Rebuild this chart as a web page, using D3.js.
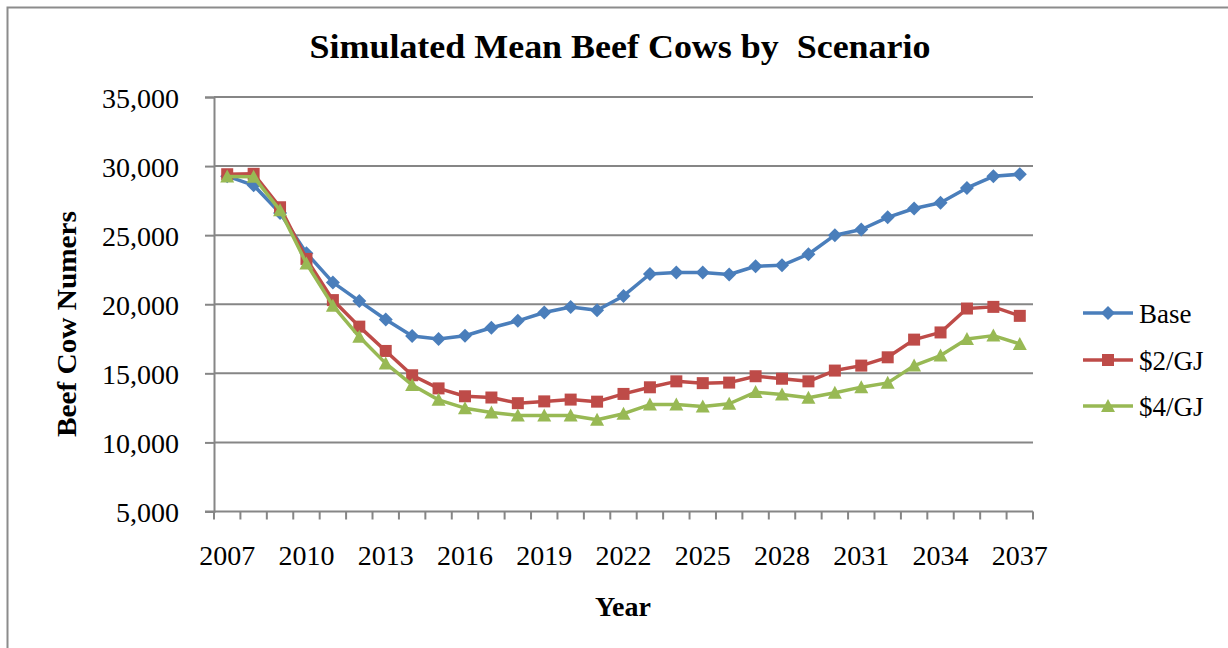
<!DOCTYPE html>
<html>
<head>
<meta charset="utf-8">
<script src="https://cdn.jsdelivr.net/npm/d3@7"></script>
<style>
  html, body { margin: 0; padding: 0; background: #fff; }
  svg { display: block; }
</style>
</head>
<body>
<svg id="chart" width="1228" height="648"></svg>
<script>
const years = d3.range(2007, 2038);
const tickYears = [2007, 2010, 2013, 2016, 2019, 2022, 2025, 2028, 2031, 2034, 2037];
const yTicks = [5000, 10000, 15000, 20000, 25000, 30000, 35000];
const seriesNames = ["Base", "$2/GJ", "$4/GJ"];
const baseValues = [29270, 28610, 26600, 23700, 21580, 20230, 18900, 17700, 17480, 17720, 18300, 18800, 19400, 19800, 19560, 20600, 22190, 22300, 22300, 22150, 22750, 22820, 23620, 25000, 25410, 26290, 26930, 27340, 28420, 29260, 29410];
const gj2Values = [29410, 29440, 27020, 23280, 20300, 18380, 16620, 14860, 13910, 13340, 13250, 12840, 12970, 13100, 12950, 13510, 13990, 14420, 14290, 14330, 14790, 14610, 14420, 15200, 15560, 16160, 17440, 17960, 19690, 19810, 19160];
const gj4Values = [29250, 29220, 26800, 22950, 19900, 17640, 15720, 14160, 13080, 12480, 12170, 11950, 11950, 11950, 11640, 12080, 12740, 12750, 12600, 12800, 13640, 13460, 13230, 13600, 14000, 14310, 15560, 16290, 17490, 17730, 17130];
const colors = ["#4A7EBB", "#BE4B48", "#98B954"];
const markers = ["diamond", "square", "triangle"];

const svg = d3.select("#chart");
const serif = "'Liberation Serif', 'Times New Roman', serif";

// outer chart border
svg.append("rect").attr("x", 7.5).attr("y", 7.5).attr("width", 1240).attr("height", 660)
  .attr("fill", "none").attr("stroke", "#8c8c8c").attr("stroke-width", 2);

const pLeft = 214, pRight = 1033, pTop = 97, pBottom = 511.5;
const x = d3.scaleBand().domain(years).range([pLeft, pRight]).padding(0);
const y = d3.scaleLinear().domain([5000, 35000]).range([pBottom, pTop]);
const cx = d => x(d) + x.bandwidth() / 2;

// gridlines
svg.append("g").selectAll("line").data(yTicks.slice(1)).join("line")
  .attr("x1", pLeft).attr("x2", pRight)
  .attr("y1", d => y(d)).attr("y2", d => y(d))
  .attr("stroke", "#868686").attr("stroke-width", 2);

// y axis
const yAxis = svg.append("g").attr("transform", `translate(${pLeft},0)`)
  .call(d3.axisLeft(y).tickValues(yTicks).tickSize(9).tickPadding(26).tickFormat(d3.format(",")));
yAxis.select(".domain").attr("stroke", "#868686").attr("stroke-width", 2);
yAxis.selectAll(".tick line").attr("stroke", "#868686").attr("stroke-width", 2);
yAxis.selectAll("text").attr("font-family", serif).attr("font-size", 28).attr("fill", "#000").attr("dy", "0.36em");

// x axis
const xg = svg.append("g");
xg.append("line").attr("x1", pLeft - 9).attr("x2", pRight).attr("y1", pBottom).attr("y2", pBottom)
  .attr("stroke", "#868686").attr("stroke-width", 2);
const bounds = years.map(d => x(d)).concat([x(years[years.length - 1]) + x.bandwidth()]);
xg.selectAll("line.tk").data(bounds).join("line").attr("class", "tk")
  .attr("x1", d => d).attr("x2", d => d).attr("y1", pBottom).attr("y2", pBottom + 8)
  .attr("stroke", "#868686").attr("stroke-width", 2);
xg.selectAll("text").data(tickYears).join("text")
  .attr("x", d => cx(d)).attr("y", 565).attr("text-anchor", "middle")
  .attr("font-family", serif).attr("font-size", 28).attr("fill", "#000").text(d => d);

// lines
const allSeries = [baseValues, gj2Values, gj4Values];
const line = d3.line().x((d, i) => cx(years[i])).y(d => y(d));

function drawMarker(g, type, px, py, color) {
  if (type === "diamond") {
    g.append("path").attr("d", `M${px},${py - 7}L${px + 7},${py}L${px},${py + 7}L${px - 7},${py}Z`).attr("fill", color);
  } else if (type === "square") {
    g.append("rect").attr("x", px - 6).attr("y", py - 6).attr("width", 12).attr("height", 12).attr("fill", color);
  } else {
    g.append("path").attr("d", `M${px},${py - 7}L${px + 7},${py + 6}L${px - 7},${py + 6}Z`).attr("fill", color);
  }
}

allSeries.forEach((vals, si) => {
  const g = svg.append("g");
  g.append("path").datum(vals).attr("d", line).attr("fill", "none")
    .attr("stroke", colors[si]).attr("stroke-width", 3.5).attr("stroke-linejoin", "round");
  vals.forEach((v, i) => drawMarker(g, markers[si], cx(years[i]), y(v), colors[si]));
});

// legend
const legY = [313, 360, 406];
seriesNames.forEach((name, i) => {
  const g = svg.append("g");
  g.append("line").attr("x1", 1083).attr("x2", 1133).attr("y1", legY[i]).attr("y2", legY[i])
    .attr("stroke", colors[i]).attr("stroke-width", 3.5);
  drawMarker(g, markers[i], 1108, legY[i], colors[i]);
  g.append("text").attr("x", 1139).attr("y", legY[i] + 10).attr("font-family", serif)
    .attr("font-size", 27).attr("fill", "#000").text(name);
});

// title
svg.append("text").attr("x", 620).attr("y", 58).attr("text-anchor", "middle")
  .attr("font-family", serif).attr("font-weight", "bold").attr("font-size", 34)
  .style("white-space", "pre")
  .attr("textLength", 621).attr("lengthAdjust", "spacingAndGlyphs")
  .text("Simulated Mean Beef Cows by  Scenario");

// axis titles
svg.append("text").attr("transform", "translate(76,324) rotate(-90)").attr("text-anchor", "middle")
  .attr("font-family", serif).attr("font-weight", "bold").attr("font-size", 28)
  .attr("textLength", 226).attr("lengthAdjust", "spacingAndGlyphs")
  .text("Beef Cow Numers");
svg.append("text").attr("x", 623).attr("y", 616).attr("text-anchor", "middle")
  .attr("font-family", serif).attr("font-weight", "bold").attr("font-size", 28)
  .text("Year");
</script>
</body>
</html>
